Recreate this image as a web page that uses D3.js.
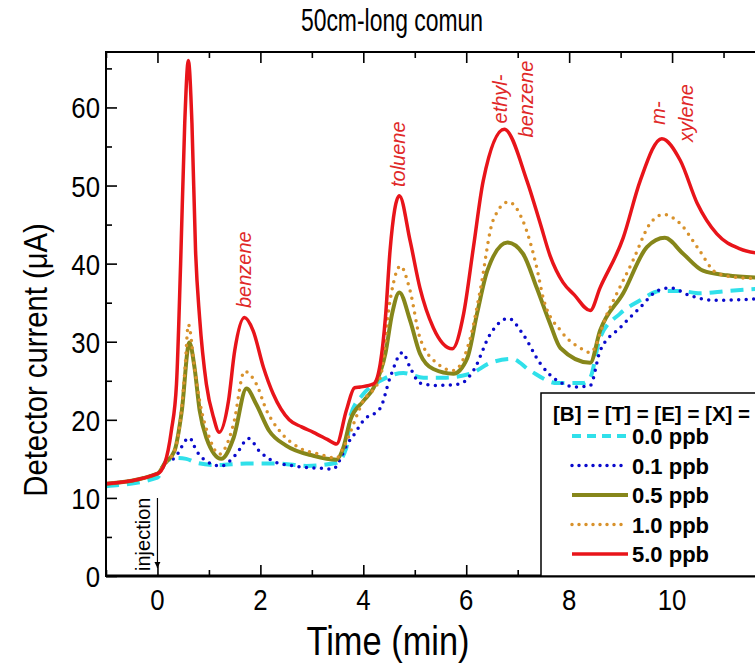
<!DOCTYPE html>
<html>
<head>
<meta charset="utf-8">
<script src="https://d3js.org/d3.v7.min.js"></script>
<style>
  body { margin: 0; background: #fff; }
  text { font-family: "Liberation Sans", Arial, sans-serif; }
</style>
</head>
<body>
<svg id="chart" width="755" height="666"></svg>
<script>
// time (min) / detector current (uA)
const t00 = [-1, 0, 0.17, 0.37, 0.56, 0.76, 1.15, 1.73, 2.37, 2.89, 3.48, 3.67, 3.75, 4.0, 4.33, 4.78, 5.17, 5.55, 6.08, 6.47, 6.89, 7.24, 7.77, 8.27, 8.41, 8.6, 8.99, 9.38, 9.77, 10.16, 10.54, 11.07, 11.7];
const v00 = [11.5, 12.6, 14.7, 15.1, 15.0, 14.5, 14.2, 14.4, 14.4, 14.1, 14.5, 16.4, 20.5, 23.3, 25.0, 26.0, 25.4, 25.4, 25.9, 27.3, 27.8, 26.3, 24.7, 24.7, 25.4, 30.5, 33.6, 35.3, 36.5, 36.5, 36.2, 36.5, 36.8];

const t01 = [-1, 0, 0.14, 0.33, 0.62, 0.76, 0.95, 1.24, 1.53, 1.77, 1.98, 2.25, 2.64, 3.15, 3.42, 3.53, 3.69, 3.83, 4.0, 4.33, 4.52, 4.76, 4.91, 5.1, 5.44, 5.88, 6.14, 6.47, 6.82, 7.1, 7.44, 7.77, 8.16, 8.41, 8.6, 8.99, 9.38, 9.71, 9.96, 10.35, 10.8, 11.7];
const v01 = [11.8, 13.1, 14.4, 15.1, 17.7, 16.0, 14.7, 14.1, 15.6, 17.6, 16.0, 14.7, 14.1, 13.8, 13.7, 14.7, 16.9, 18.2, 19.9, 21.5, 25.4, 28.6, 26.7, 24.7, 24.4, 24.6, 26.3, 31.0, 33.0, 31.0, 27.2, 25.0, 24.2, 24.4, 28.8, 31.8, 34.4, 36.5, 36.9, 35.9, 35.3, 35.5];

const t05 = [-1, 0, 0.14, 0.33, 0.47, 0.62, 0.72, 0.82, 0.95, 1.24, 1.48, 1.73, 1.92, 2.17, 2.5, 3.03, 3.48, 3.61, 3.75, 4.0, 4.2, 4.43, 4.56, 4.7, 4.91, 5.1, 5.36, 5.75, 6.02, 6.21, 6.41, 6.8, 7.1, 7.37, 7.63, 7.83, 8.41, 8.6, 9.05, 9.51, 9.86, 10.21, 10.6, 11.07, 11.7];
const v05 = [11.8, 13.1, 14.4, 16.0, 21.0, 29.9, 26.7, 21.2, 17.7, 15.0, 17.7, 24.0, 22.0, 18.6, 16.7, 15.4, 14.9, 16.4, 20.0, 22.4, 24.1, 28.5, 33.6, 36.3, 32.7, 28.5, 26.5, 25.9, 27.9, 33.6, 39.1, 42.7, 41.3, 36.9, 32.3, 29.2, 27.3, 31.4, 36.2, 42.1, 43.3, 41.3, 39.1, 38.5, 38.2];

const t10 = [-1, 0, 0.14, 0.33, 0.47, 0.54, 0.6, 0.72, 0.82, 1.01, 1.2, 1.48, 1.69, 1.92, 2.12, 2.37, 2.76, 3.15, 3.48, 3.61, 4.0, 4.33, 4.52, 4.72, 4.91, 5.1, 5.44, 5.75, 6.08, 6.27, 6.52, 6.82, 7.1, 7.37, 7.5, 7.85, 8.27, 8.41, 8.74, 9.24, 9.57, 9.83, 10.16, 10.49, 10.87, 11.32, 11.7];
const v10 = [11.8, 13.1, 14.4, 16.0, 21.5, 27.0, 32.2, 26.7, 22.4, 17.7, 15.6, 19.5, 26.2, 24.6, 21.2, 18.6, 16.4, 15.6, 15.1, 16.4, 22.4, 25.4, 35.3, 39.7, 36.5, 30.5, 27.2, 26.3, 30.5, 36.5, 45.5, 47.9, 45.5, 39.5, 35.5, 31.3, 29.0, 28.6, 33.6, 40.4, 45.1, 46.3, 45.1, 42.1, 38.8, 38.2, 38.1];

const t50 = [-1, 0, 0.14, 0.27, 0.37, 0.45, 0.53, 0.6, 0.67, 0.74, 0.82, 0.95, 1.09, 1.2, 1.38, 1.5, 1.69, 1.86, 2.06, 2.25, 2.56, 2.8, 3.03, 3.3, 3.48, 3.67, 3.83, 3.94, 4.2, 4.33, 4.43, 4.52, 4.7, 4.91, 5.1, 5.36, 5.73, 5.95, 6.14, 6.33, 6.74, 7.18, 7.44, 7.63, 7.88, 8.1, 8.41, 8.6, 9.05, 9.38, 9.8, 10.16, 10.49, 10.87, 11.32, 11.7];
const v50 = [11.8, 13.1, 14.4, 18.6, 24.6, 40.0, 58.0, 66.0, 58.0, 41.7, 33.0, 24.6, 20.3, 18.4, 22.4, 28.8, 33.1, 31.4, 26.7, 23.3, 20.0, 19.1, 18.4, 17.5, 16.9, 21.2, 24.1, 24.2, 24.6, 27.2, 33.1, 41.7, 48.7, 42.9, 36.9, 31.8, 29.1, 33.6, 42.1, 50.6, 57.2, 50.6, 45.1, 41.0, 37.6, 36.0, 34.0, 36.9, 43.3, 50.6, 56.0, 53.2, 47.7, 43.8, 41.9, 41.3];

const seriesNames = ["0.0 ppb", "0.1 ppb", "0.5 ppb", "1.0 ppb", "5.0 ppb"];
const seriesTimes = [t00, t01, t05, t10, t50];
const seriesValues = [v00, v01, v05, v10, v50];
const seriesColors = ["#30e0ea", "#0a0acc", "#86861a", "#d8922c", "#e8141a"];
const seriesWidths = [4, 3.5, 4, 3.5, 3.5];
const seriesDash = ["13,8", "0,7.5", null, "0,7.5", null];

const peakNames = [["benzene"], ["toluene"], ["ethyl-", "benzene"], ["m-", "xylene"]];
const peakTimes = [1.7, 4.7, 6.76, 9.8];

const xMajor = [0, 2, 4, 6, 8, 10, 12];
const xMinor = [-1, 1, 3, 5, 7, 9, 11];
const yMajor = [0, 10, 20, 30, 40, 50, 60];
const yMinor = [5, 15, 25, 35, 45, 55, 65];

const svg = d3.select("#chart");
const pLeft = 106, pTop = 52, pRight = 775, pBottom = 576;

const x = d3.scaleLinear().domain([-1, 12]).range([pLeft, pRight]);
const y = d3.scaleLinear().domain([0, 67.1]).range([pBottom, pTop]);

svg.append("defs").append("clipPath").attr("id", "plotclip")
  .append("rect").attr("x", pLeft).attr("y", pTop).attr("width", pRight - pLeft).attr("height", pBottom - pTop);

// curves
const line = d3.line().x(d => x(d[0])).y(d => y(d[1])).curve(d3.curveMonotoneX);
const curves = svg.append("g").attr("clip-path", "url(#plotclip)");
seriesNames.forEach((name, i) => {
  const pts = seriesTimes[i].map((t, j) => [t, seriesValues[i][j]]);
  const p = curves.append("path")
    .attr("d", line(pts))
    .attr("fill", "none")
    .attr("stroke", seriesColors[i])
    .attr("stroke-width", seriesWidths[i])
    .attr("stroke-linejoin", "round");
  if (seriesDash[i]) {
    p.attr("stroke-dasharray", seriesDash[i]);
    if (seriesDash[i].startsWith("0")) p.attr("stroke-linecap", "round");
  }
});

// axes, ticks inward
function tickAxis(axisFn, scale, vals, size, pos) {
  const g = svg.append("g").attr("transform", pos)
    .call(axisFn(scale).tickValues(vals).tickSize(-size).tickFormat(""));
  g.select(".domain").remove();
  g.selectAll("line").attr("stroke", "#000").attr("stroke-width", 1.6);
  return g;
}
tickAxis(d3.axisBottom, x, xMajor, 11, `translate(0,${pBottom})`);
tickAxis(d3.axisBottom, x, xMinor, 6, `translate(0,${pBottom})`);
tickAxis(d3.axisTop, x, xMajor, 11, `translate(0,${pTop})`);
tickAxis(d3.axisTop, x, xMinor, 6, `translate(0,${pTop})`);
tickAxis(d3.axisLeft, y, yMajor, 11, `translate(${pLeft},0)`);
tickAxis(d3.axisLeft, y, yMinor, 6, `translate(${pLeft},0)`);

// tick labels
const labFont = 30, squeeze = 0.86;
svg.append("g").selectAll("text").data(xMajor.filter(d => d <= 10)).join("text")
  .attr("transform", d => `translate(${x(d)},${pBottom + 34}) scale(${squeeze},1)`)
  .attr("text-anchor", "middle").attr("font-size", labFont).text(d => d);
svg.append("g").selectAll("text").data(yMajor).join("text")
  .attr("transform", d => `translate(${pLeft - 6},${y(d) + 11}) scale(${squeeze},1)`)
  .attr("text-anchor", "end").attr("font-size", labFont).text(d => d);

// frame
svg.append("rect").attr("x", pLeft).attr("y", pTop).attr("width", pRight - pLeft).attr("height", pBottom - pTop)
  .attr("fill", "none").attr("stroke", "#000").attr("stroke-width", 2);
svg.append("line").attr("x1", pLeft).attr("x2", pRight).attr("y1", pBottom).attr("y2", pBottom)
  .attr("stroke", "#000").attr("stroke-width", 3);

// titles
svg.append("text").attr("transform", `translate(392,31) scale(0.74,1)`)
  .attr("text-anchor", "middle").attr("font-size", 31).text("50cm-long comun");
svg.append("text").attr("transform", `translate(388,655) scale(${squeeze},1)`)
  .attr("text-anchor", "middle").attr("font-size", 40).text("Time (min)");
svg.append("text").attr("transform", `translate(47,360) rotate(-90) scale(${squeeze},1)`)
  .attr("text-anchor", "middle").attr("font-size", 34).text("Detector current (\u03BCA)");

// peak labels
const peakOff = [[0], [0], [-4, 22], [-3, 25]];
peakNames.forEach((lines, i) => {
  const top0 = [308, 187, 99, 113][i];
  lines.forEach((s, k) => {
    svg.append("text")
      .attr("transform", `translate(${x(peakTimes[i]) + 6 + peakOff[i][k]},${top0}) rotate(-90)`)
      .attr("text-anchor", lines.length > 1 ? "middle" : "start")
      .attr("font-size", 20).attr("font-style", "italic").attr("fill", "#e02828")
      .text(s);
  });
});

// injection marker
svg.append("defs").append("marker").attr("id", "arrow").attr("viewBox", "0 0 10 10")
  .attr("refX", 10).attr("refY", 5).attr("markerWidth", 5).attr("markerHeight", 7).attr("orient", "auto")
  .append("path").attr("d", "M0,0L10,5L0,10z").attr("fill", "#000");
svg.append("line").attr("x1", x(0)).attr("x2", x(0)).attr("y1", 498).attr("y2", 568)
  .attr("stroke", "#000").attr("stroke-width", 1.2).attr("marker-end", "url(#arrow)");
svg.append("text").attr("transform", `translate(150,571) rotate(-90)`)
  .attr("font-size", 20).text("injection");

// legend
const lg = svg.append("g").attr("transform", "translate(541,393)");
lg.append("rect").attr("width", 300).attr("height", pBottom - 393).attr("fill", "#fff")
  .attr("stroke", "#000").attr("stroke-width", 1.5);
lg.append("text").attr("x", 12).attr("y", 28).attr("font-size", 20.5).attr("font-weight", "bold")
  .text("[B] = [T] = [E] = [X] =");
seriesNames.forEach((name, i) => {
  const yy = 43 + i * 29.5;
  const l = lg.append("line").attr("x1", 31).attr("x2", 87).attr("y1", yy).attr("y2", yy)
    .attr("stroke", seriesColors[i]).attr("stroke-width", seriesWidths[i]);
  if (seriesDash[i]) {
    l.attr("stroke-dasharray", seriesDash[i] === "13,8" ? "9,6" : "0,7");
    if (seriesDash[i].startsWith("0")) l.attr("stroke-linecap", "round");
  }
  lg.append("text").attr("x", 91).attr("y", yy + 8).attr("font-size", 22).attr("font-weight", "bold").text(name);
});
</script>
</body>
</html>
